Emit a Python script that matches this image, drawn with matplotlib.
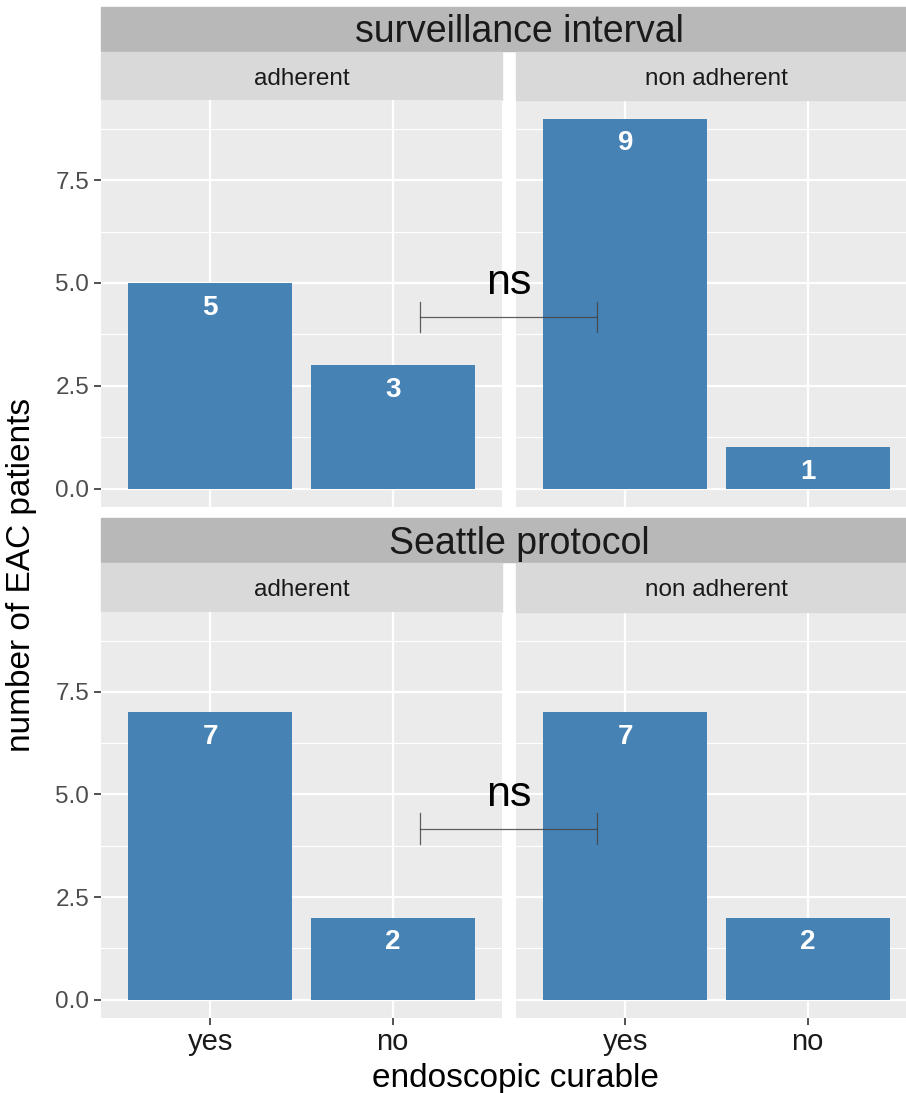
import matplotlib
matplotlib.use("Agg")
import matplotlib.pyplot as plt
from matplotlib.patches import Rectangle

plt.rcParams['font.family'] = ['Liberation Sans', 'DejaVu Sans']

# data
categories = ["yes", "no"]
rows = ["surveillance interval", "Seattle protocol"]
facets = ["adherent", "non adherent"]
counts = {
    ("surveillance interval", "adherent"): [5, 3],
    ("surveillance interval", "non adherent"): [9, 1],
    ("Seattle protocol", "adherent"): [7, 2],
    ("Seattle protocol", "non adherent"): [7, 2],
}
sig_labels = ["ns", "ns"]

W, H = 906, 1093
BAR = "#4682B4"
PANEL = "#EBEBEB"


def fx(px):
    return px / W


def fy(py):
    return 1 - py / H


fig = plt.figure(figsize=(W / 100, H / 100), dpi=100)

# pixel layout of each row: (big strip top, sub strip top, panel top, panel bottom)
row_px = [(7, 52, 100, 507), (518, 563, 612, 1018)]
col_px = [(101, 502), (516, 917)]

ymax = max(max(v) for v in counts.values())
pad = ymax * 0.05

for r, row in enumerate(rows):
    st, sst, pt, pb = row_px[r]
    # big strip spanning both facets
    fig.patches.append(Rectangle((fx(101), fy(sst - 1)), fx(W - 101) + 0.05, (sst - 1 - st) / H,
                                 transform=fig.transFigure, color="#B8B8B8", zorder=0))
    fig.text(fx(519), fy((st + sst) / 2 + 3), row, ha="center", va="center", fontsize=27, color="#1A1A1A")
    axes = []
    for c, fac in enumerate(facets):
        x0, x1 = col_px[c]
        fig.patches.append(Rectangle((fx(x0), fy(pt)), (x1 - x0) / W, (pt - sst) / H,
                                     transform=fig.transFigure, color="#D9D9D9", zorder=0))
        fig.text(fx((x0 + x1) / 2), fy((sst + pt) / 2 + 3), fac, ha="center", va="center",
                 fontsize=17.5, color="#1A1A1A")
        ax = fig.add_axes([fx(x0), fy(pb), (x1 - x0) / W, (pb - pt) / H])
        axes.append(ax)
        ax.set_facecolor(PANEL)
        vals = counts[(row, fac)]
        xs = range(1, len(categories) + 1)
        ax.bar(xs, vals, width=0.9, color=BAR, zorder=3)
        for x, v in zip(xs, vals):
            ax.text(x, v - 0.6, str(v), ha="center", va="center", color="white",
                    fontsize=20, fontweight="bold", zorder=4)
        ax.set_xlim(0.4, len(categories) + 0.6)
        ax.set_ylim(-pad, ymax + pad)
        ax.set_yticks([0, 2.5, 5, 7.5])
        ax.set_yticks([1.25, 3.75, 6.25, 8.75], minor=True)
        ax.set_xticks(list(xs))
        ax.grid(True, which="major", color="white", linewidth=1.6, zorder=1)
        ax.grid(True, which="minor", axis="y", color="white", linewidth=0.8, zorder=1)
        ax.set_axisbelow(True)
        for s in ax.spines.values():
            s.set_visible(False)
        ax.tick_params(axis="both", which="minor", length=0)
        ax.tick_params(axis="both", which="major", color="#333333", width=1.2, length=5,
                       labelcolor="#4D4D4D", labelsize=17.5)
        if c == 0:
            ax.set_yticklabels(["0.0", "2.5", "5.0", "7.5"])
        else:
            ax.tick_params(axis="y", length=0, labelleft=False)
        if r == 1:
            ax.set_xticklabels(categories, fontsize=21, color="#1A1A1A")
            ax.tick_params(axis="x", pad=2)
        else:
            ax.tick_params(axis="x", length=0, labelbottom=False)

    # significance bracket across facets, drawn on left facet
    ax = axes[0]
    ax.set_zorder(5)
    bx0, bx1, by = 2.15, 3.12, 4.17
    ax.plot([bx0, bx1], [by, by], color="#444444", lw=0.9, alpha=0.85, clip_on=False, zorder=6)
    ax.plot([bx0, bx0], [by - 0.37, by + 0.37], color="#444444", lw=0.9, alpha=0.85, clip_on=False, zorder=6)
    ax.plot([bx1, bx1], [by - 0.37, by + 0.37], color="#444444", lw=0.9, alpha=0.85, clip_on=False, zorder=6)
    ax.text((bx0 + bx1) / 2, by + 0.33, sig_labels[r], ha="center", va="bottom",
            fontsize=31, color="black", zorder=6, clip_on=False)

fig.text(fx(22), fy(575), "number of EAC patients", rotation=90, ha="center", va="center",
         fontsize=24, color="black")
fig.text(fx(515), fy(1079), "endoscopic curable", ha="center", va="center",
         fontsize=24, color="black")

fig.savefig("out.png", dpi=100, facecolor="white")
